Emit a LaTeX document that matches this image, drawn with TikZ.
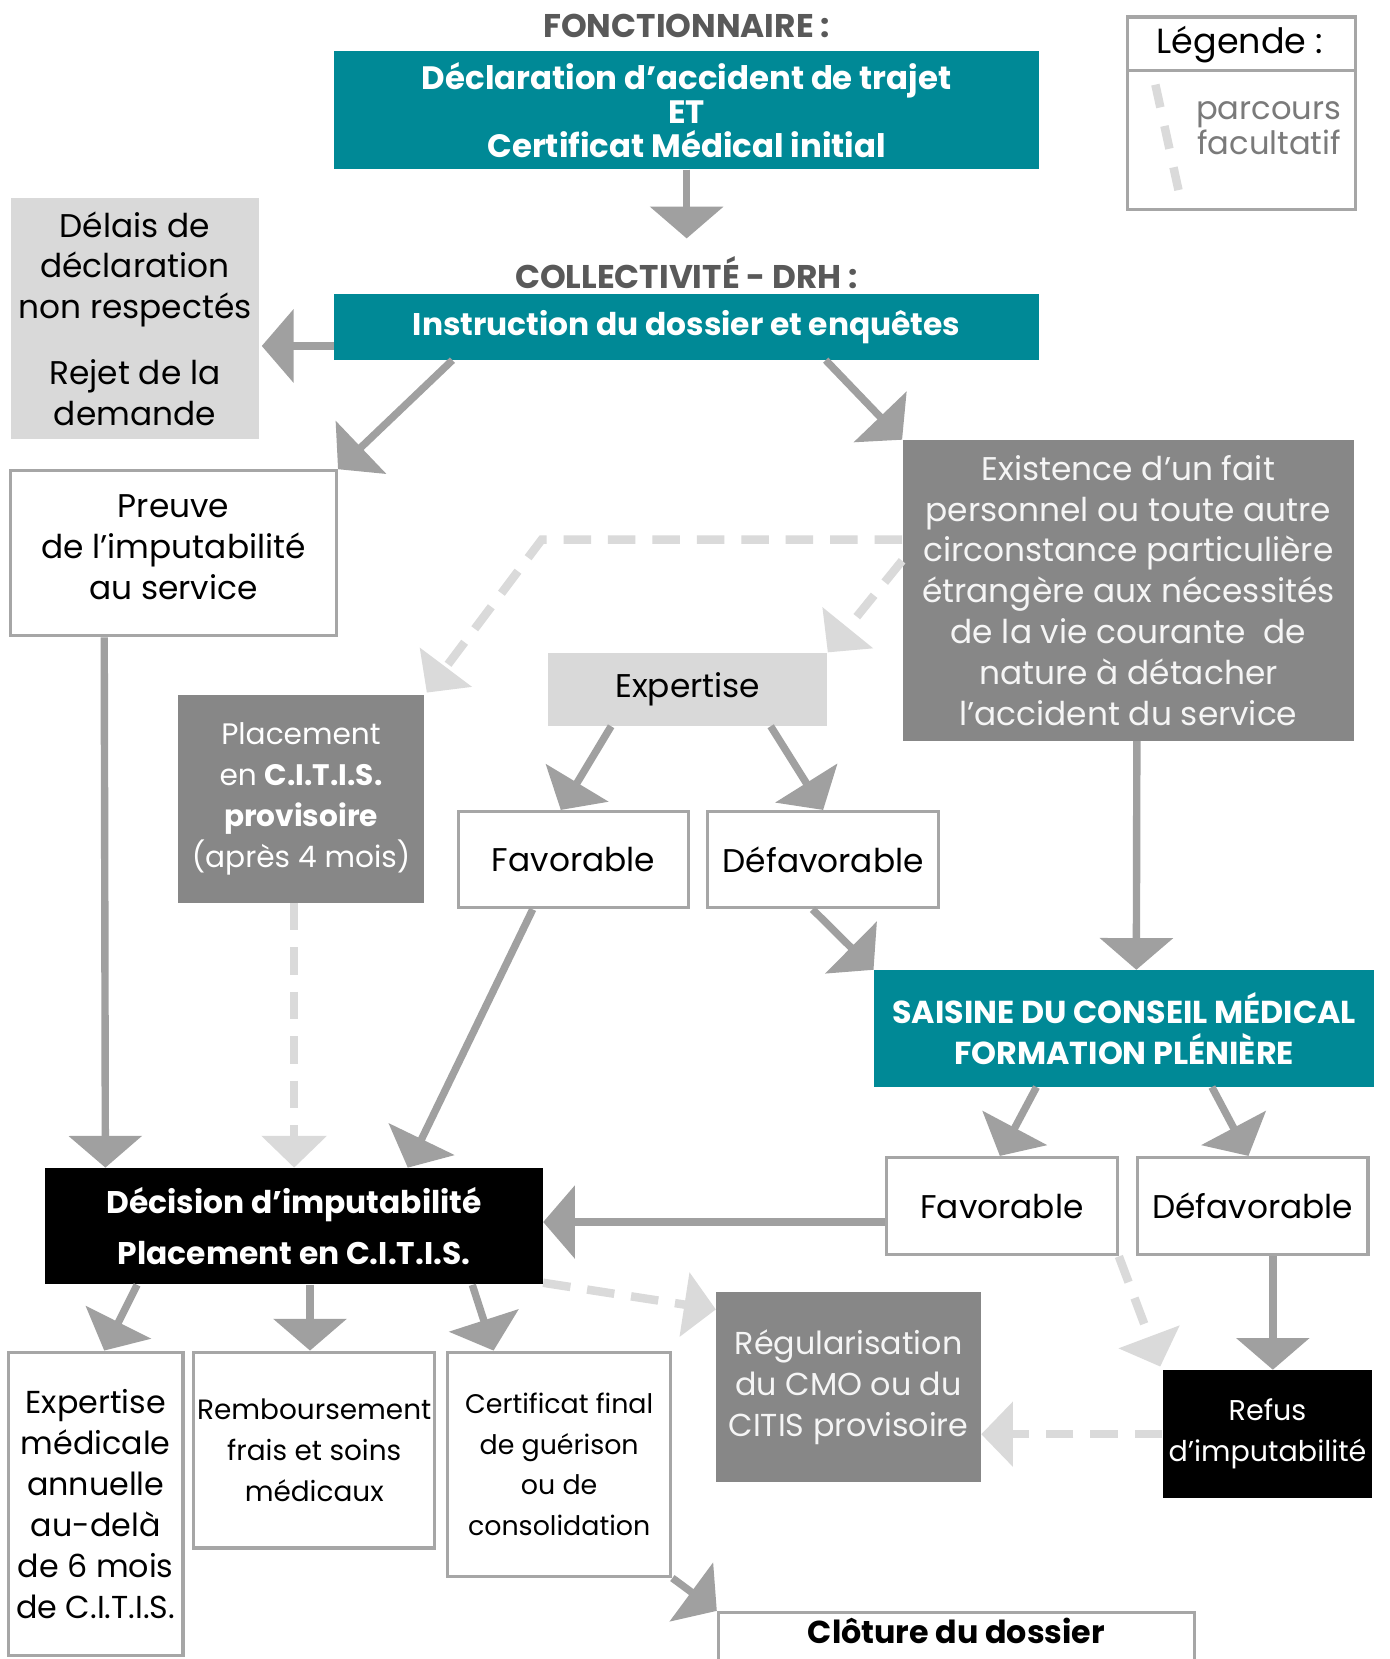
\documentclass[tikz,border=0pt]{standalone}
\usepackage{fontspec}
\setmainfont{Poppins}
\usetikzlibrary{arrows.meta,calc}
\definecolor{tealc}{HTML}{008996}
\definecolor{darkc}{HTML}{878787}
\definecolor{lightc}{HTML}{D9D9D9}
\definecolor{linec}{HTML}{A0A0A0}
\definecolor{optc}{HTML}{DADADA}
\definecolor{borderc}{HTML}{A6A6A6}
\definecolor{titlec}{HTML}{595959}

\begin{document}
\begin{tikzpicture}[x=0.5pt,y=-0.5pt,
	base_node/.style={rectangle,inner sep=0pt,align=center,font=\fontsize{15.5}{19.3}\selectfont},
	teal_node/.style={base_node,fill=tealc,text=white,font=\bfseries\fontsize{15.3}{16}\selectfont},
	white_node/.style={base_node,fill=white,draw=borderc,line width=1.5pt},
	light_node/.style={base_node,fill=lightc},
	dark_node/.style={base_node,fill=darkc,text=white!92!darkc},
	black_node/.style={base_node,fill=black,text=white},
	title_text/.style={inner sep=0pt,text=titlec,font=\bfseries\fontsize{15.5}{16}\selectfont},
	main_arrow/.style={draw=linec,line width=3.5pt,-{Triangle[width=34pt,length=15pt]}},
	opt_arrow/.style={draw=optc,line width=4pt,dash pattern=on 13pt off 8pt,-{Triangle[width=30pt,length=15pt]}}]
	\clip (0,0) rectangle (1313,1568);
	\fill[white] (0,0) rectangle (1313,1568);

	\node[title_text] (fonct) at (649,25) {FONCTIONNAIRE :};
	\node[teal_node,minimum width=333pt,minimum height=56pt] (decl) at (649,104) {Déclaration d’accident de trajet\\ET\\Certificat Médical initial};
	\node[title_text] (collect) at (649,258) {COLLECTIVITÉ - DRH :};
	\node[teal_node,minimum width=333pt,minimum height=31pt,font=\bfseries\fontsize{14.8}{16}\selectfont] (instr) at (649,309) {Instruction du dossier et enquêtes};
	\node[light_node,text=black,minimum width=117.5pt,minimum height=114pt] (delais) at (127.5,301) {Délais de\\déclaration\\non respectés\\[11.75pt]Rejet de la\\demande};
	\node[white_node,minimum width=154pt,minimum height=78pt,text depth=6pt] (preuve) at (164,523) {Preuve\\de l’imputabilité\\au service};
	\node[dark_node,minimum width=213.5pt,minimum height=142pt] (exist) at (1066.5,558) {Existence d’un fait\\personnel ou toute autre\\circonstance particulière\\étrangère aux nécessités\\de la vie courante~ de\\nature à détacher\\l’accident du service};
	\node[light_node,minimum width=132pt,minimum height=34.5pt] (expert) at (650,651.5) {Expertise};
	\node[dark_node,text=white,minimum width=116.5pt,minimum height=98pt,font=\fontsize{14}{19.3}\selectfont] (placement) at (284.5,755) {Placement\\en \textbf{C.I.T.I.S.}\\\textbf{provisoire}\\(après 4 mois)};
	\node[white_node,minimum width=109pt,minimum height=45.5pt] (fav1) at (542,812.5) {Favorable};
	\node[white_node,minimum width=109pt,minimum height=45.5pt] (def1) at (778,812.5) {Défavorable};
	\node[teal_node,minimum width=236.5pt,minimum height=55pt,font=\bfseries\fontsize{15}{19.5}\selectfont] (saisine) at (1062.5,972) {SAISINE DU CONSEIL MÉDICAL\\FORMATION PLÉNIÈRE};
	\node[white_node,minimum width=109pt,minimum height=46pt] (fav2) at (947,1140) {Favorable};
	\node[white_node,minimum width=109pt,minimum height=46pt] (def2) at (1184,1140) {Défavorable};
	\node[black_node,minimum width=235pt,minimum height=55pt,font=\bfseries\fontsize{14.8}{24}\selectfont] (decision) at (278,1159) {Décision d’imputabilité\\Placement en C.I.T.I.S.};
	\node[black_node,minimum width=99pt,minimum height=60.5pt,font=\fontsize{13.5}{19.3}\selectfont] (refus) at (1198,1355.5) {Refus\\d’imputabilité};
	\node[dark_node,minimum width=125pt,minimum height=90pt,font=\fontsize{15}{19.3}\selectfont] (regul) at (802,1311) {Régularisation\\du CMO ou du\\CITIS provisoire};
	\node[white_node,minimum width=82.5pt,minimum height=143.5pt,font=\fontsize{15}{19.3}\selectfont] (expmed) at (90.5,1421.5) {Expertise\\médicale\\annuelle\\au-delà\\de 6 mois\\de C.I.T.I.S.};
	\node[white_node,minimum width=114pt,minimum height=92.5pt,font=\fontsize{13.2}{19.3}\selectfont] (remb) at (297,1370.5) {Remboursement\\frais et soins\\médicaux};
	\node[white_node,minimum width=105.5pt,minimum height=106pt,font=\fontsize{12.7}{19.3}\selectfont] (certif) at (528.5,1384) {Certificat final\\de guérison\\ou de\\consolidation};
	\node[white_node,minimum width=225pt,text height=14.5pt,text depth=21.5pt,font=\bfseries\fontsize{15}{19.3}\selectfont] (cloture) at (904,1560) {Clôture du dossier};

	\node[white_node,minimum width=107.5pt,minimum height=91pt] (legend) at (1173.5,107) {};
	\node[base_node,font=\fontsize{16.5}{19.3}\selectfont] (legtitle) at (1172,42) {Légende :};
	\draw[draw=borderc,line width=1.5pt] ($(legend.north west)+(0,52)$) -- ($(legend.north east)+(0,52)$);
	\node[base_node,anchor=east,align=right,text=titlec!80!white,font=\fontsize{15.2}{15.5}\selectfont] (legtext) at (1268,121) {parcours\\facultatif};
	\coordinate (leg_a) at (1092,80);
	\coordinate (leg_b) at (1115,185);
	\draw[draw=optc,line width=4pt,dash pattern=on 11pt off 9pt] (leg_a) -- (leg_b);

	\coordinate (bend) at (512,510);
	\draw[main_arrow] (decl.south) -- ($(collect.north)+(0,-17)$);
	\draw[main_arrow] ($(instr.west)+(0,18)$) -- ($(delais.east)+(2,26)$);
	\draw[main_arrow] ($(instr.south west)+(112,0)$) -- (preuve.north east);
	\draw[main_arrow] ($(instr.south east)+(-202,0)$) -- (exist.north west);
	\draw[opt_arrow] ($(exist.west)+(0,-48)$) -- (bend) -- ($(placement.north east)+(2,-2)$);
	\draw[opt_arrow] ($(exist.west)+(0,-28)$) -- (expert.north east);
	\draw[main_arrow] ($(expert.south west)+(60,0)$) -- ($(fav1.north)+(-12,0)$);
	\draw[main_arrow] ($(expert.south east)+(-54,0)$) -- (def1.north);
	\draw[main_arrow] ($(exist.south)+(8,0)$) -- ($(saisine.north)+(11.5,0)$);
	\draw[main_arrow] ($(def1.south)+(-10,0)$) -- (saisine.north west);
	\draw[main_arrow] ($(saisine.south west)+(154,0)$) -- ($(fav2.north)+(-2,0)$);
	\draw[main_arrow] ($(saisine.south east)+(-154,0)$) -- ($(def2.north)+(-4,0)$);
	\draw[main_arrow] ($(preuve.south west)+(90,0)$) -- ($(decision.north west)+(57,0)$);
	\draw[opt_arrow] (placement.south -| decision.north) -- (decision.north);
	\draw[main_arrow] ($(fav1.south west)+(72,0)$) -- ($(decision.north east)+(-128,0)$);
	\draw[main_arrow] ($(fav2.west)+(0,15)$) -- ($(decision.east)+(0,-4)$);
	\draw[main_arrow] ($(def2.south)+(19,0)$) -- ($(refus.north)+(5,0)$);
	\draw[opt_arrow] (fav2.south east) -- ($(refus.north west)+(-2,-3)$);
	\draw[opt_arrow] (refus.west) -- (refus.west -| regul.east);
	\draw[opt_arrow] ($(decision.south east)+(0,-2)$) -- ($(regul.north west)+(0,17)$);
	\draw[main_arrow] ($(decision.south west)+(87,0)$) -- ($(expmed.north)+(8,0)$);
	\draw[main_arrow] ($(decision.south)+(15,0)$) -- ($(remb.north)+(-4,0)$);
	\draw[main_arrow] ($(decision.south east)+(-67,0)$) -- ($(certif.north)+(-62,0)$);
	\draw[main_arrow] (certif.south east) -- (cloture.north west);
\end{tikzpicture}
\end{document}
